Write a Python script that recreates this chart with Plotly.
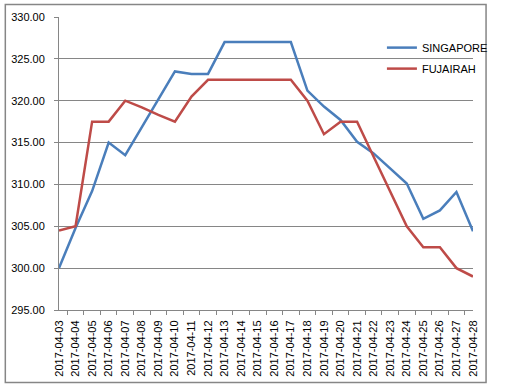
import plotly.graph_objects as go

dates = ["2017-04-03", "2017-04-04", "2017-04-05", "2017-04-06", "2017-04-07", "2017-04-08",
         "2017-04-09", "2017-04-10", "2017-04-11", "2017-04-12", "2017-04-13", "2017-04-14",
         "2017-04-15", "2017-04-16", "2017-04-17", "2017-04-18", "2017-04-19", "2017-04-20",
         "2017-04-21", "2017-04-22", "2017-04-23", "2017-04-24", "2017-04-25", "2017-04-26",
         "2017-04-27", "2017-04-28"]

singapore = [300.0, 304.8, 309.2, 315.0, 313.5, 316.8, 320.2, 323.5, 323.2, 323.2, 327.0, 327.0,
             327.0, 327.0, 327.0, 321.2, 319.3, 317.7, 315.1, 313.7, 311.9, 310.1, 305.9, 306.9,
             309.1, 304.4]

fujairah = [304.5, 305.0, 317.5, 317.5, 320.0, 319.2, 318.3, 317.5, 320.5, 322.5, 322.5, 322.5,
            322.5, 322.5, 322.5, 320.0, 316.0, 317.5, 317.5, 313.3, 309.2, 305.0, 302.5, 302.5,
            300.0, 299.0]

FONT = "Liberation Sans, Arial, sans-serif"
GRID = "#868686"

fig = go.Figure()
fig.add_trace(go.Scatter(x=dates, y=singapore, mode="lines", name="SINGAPORE", legendgroup="a",
                         line=dict(color="#4A7EBB", width=2.5)))
fig.add_trace(go.Scatter(x=dates, y=fujairah, mode="lines", name="FUJAIRAH", legendgroup="b",
                         line=dict(color="#BE4B48", width=2.5)))

fig.update_layout(
    width=505, height=388,
    margin=dict(l=59, r=18, t=17, b=78),
    paper_bgcolor="white", plot_bgcolor="white",
    font=dict(family=FONT, size=11, color="#000000"),
    legend=dict(x=0.78, y=0.945, xanchor="left", yanchor="top",
                bgcolor="rgba(0,0,0,0)", font=dict(size=11), itemwidth=30,
                tracegroupgap=2),
    xaxis=dict(type="category", tickangle=-90, showgrid=False,
               showline=True, linecolor=GRID, linewidth=1,
               ticks="outside", tickson="boundaries", ticklen=4, tickcolor=GRID,
               tickfont=dict(size=11), fixedrange=True, ticklabelstandoff=5,
               automargin=False),
    yaxis=dict(range=[295, 330], dtick=5, tickformat=".2f",
               showgrid=True, gridcolor=GRID, gridwidth=1,
               showline=True, linecolor=GRID, linewidth=1,
               ticks="outside", ticklen=4, tickcolor=GRID,
               tickfont=dict(size=11), zeroline=False, ticklabelstandoff=7,
               fixedrange=True, automargin=False),
    shapes=[dict(type="rect", xref="paper", yref="paper",
                 x0=(3.5 - 59) / 428, x1=(500.5 - 59) / 428,
                 y0=(310 - 382.5) / 293, y1=(310 - 4.5) / 293,
                 line=dict(color=GRID, width=1.5), fillcolor="rgba(0,0,0,0)",
                 layer="above")],
)

fig.write_html("out.html", config={"displayModeBar": False},
               post_script="document.body.style.margin='0';"
                           "document.body.style.overflow='hidden';"
                           "document.documentElement.style.overflow='hidden';")
